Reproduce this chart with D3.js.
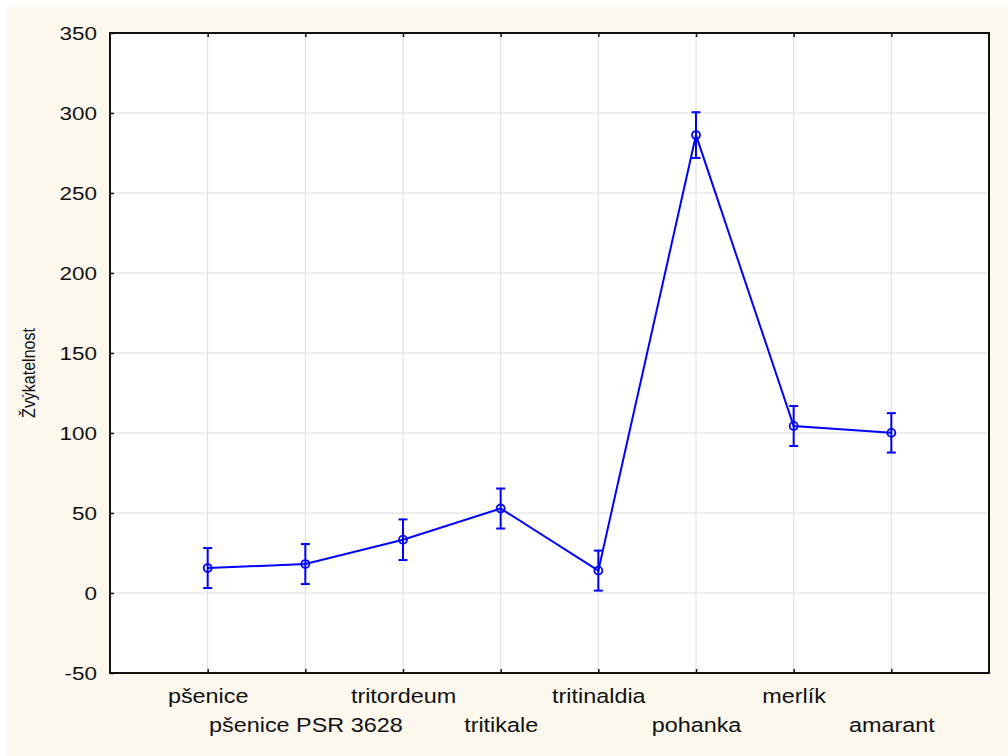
<!DOCTYPE html>
<html>
<head>
<meta charset="utf-8">
<script src="https://cdn.jsdelivr.net/npm/d3@7"></script>
<style>
  body { margin: 0; background: #ffffff; }
  text { font-family: "Liberation Sans", Arial, sans-serif; fill: #111; }
</style>
</head>
<body>
<div id="chart"></div>
<script>
// data
const categories = ["pšenice", "pšenice PSR 3628", "tritordeum", "tritikale", "tritinaldia", "pohanka", "merlík", "amarant"];
const means = [15.6, 18.1, 33.3, 52.8, 14.0, 286.2, 104.4, 100.1];
const errors = [12.5, 12.5, 12.7, 12.5, 12.5, 14.3, 12.5, 12.3];
const yTicks = [-50, 0, 50, 100, 150, 200, 250, 300, 350];
const yLabel = "Žvýkatelnost";

const W = 1008, H = 756;
const margin = {top: 33, right: 19, bottom: 83, left: 110};
const width = W - margin.left - margin.right;
const height = H - margin.top - margin.bottom;

const svg = d3.select("#chart").append("svg")
    .attr("width", W)
    .attr("height", H);

// cream page background
svg.append("rect")
    .attr("x", 7).attr("y", 7)
    .attr("width", W - 7).attr("height", H - 7)
    .attr("fill", "#fdf8ee");

const g = svg.append("g")
    .attr("transform", "translate(" + margin.left + "," + margin.top + ")");

g.append("rect")
    .attr("width", width)
    .attr("height", height)
    .attr("fill", "#ffffff");

const x = d3.scalePoint()
    .domain(categories)
    .range([0, width])
    .padding(1);

const y = d3.scaleLinear()
    .domain([-50, 350])
    .range([height, 0]);

// grid
g.selectAll(".hgrid")
    .data(yTicks)
  .enter().append("line")
    .attr("x1", 0).attr("x2", width)
    .attr("y1", d => y(d)).attr("y2", d => y(d))
    .attr("stroke", "#dcdcdc").attr("stroke-width", 1);

g.selectAll(".vgrid")
    .data(categories)
  .enter().append("line")
    .attr("x1", d => x(d)).attr("x2", d => x(d))
    .attr("y1", 0).attr("y2", height)
    .attr("stroke", "#dcdcdc").attr("stroke-width", 1);

// Y axis (ticks point inward)
const yAxis = g.append("g")
    .call(d3.axisLeft(y).tickValues(yTicks).tickSize(-4).tickFormat(d => String(d)));
yAxis.select(".domain").remove();
yAxis.selectAll("line").attr("stroke", "#111").attr("stroke-width", 1.5);
yAxis.selectAll("text")
    .attr("x", 0)
    .attr("dy", "0.36em")
    .attr("text-anchor", "end")
    .attr("transform", "translate(-13,0) scale(1.25,1)")
    .style("font-size", "18px");

// X axis bottom
const xAxis = g.append("g")
    .attr("transform", "translate(0," + height + ")")
    .call(d3.axisBottom(x).tickSize(-4));
xAxis.select(".domain").remove();
xAxis.selectAll("line").attr("stroke", "#111").attr("stroke-width", 1.5);
xAxis.selectAll("text")
    .attr("y", 0)
    .attr("dy", 0)
    .attr("text-anchor", "middle")
    .attr("transform", (d, i) => "translate(0," + (i % 2 === 0 ? 30 : 59) + ") scale(1.2,1)")
    .style("font-size", "19.5px");

// X axis top ticks
const xTop = g.append("g")
    .call(d3.axisTop(x).tickSize(-4).tickFormat(""));
xTop.select(".domain").remove();
xTop.selectAll("line").attr("stroke", "#111").attr("stroke-width", 1.5);

// frame
g.append("rect")
    .attr("width", width)
    .attr("height", height)
    .attr("fill", "none")
    .attr("stroke", "#111")
    .attr("stroke-width", 2);

// Y label
svg.append("text")
    .attr("text-anchor", "middle")
    .attr("transform", "translate(35," + 373 + ") rotate(-90) scale(1,1.15)")
    .style("font-size", "16px")
    .text(yLabel);

const data = categories.map((c, i) => ({cat: c, mean: means[i], err: errors[i]}));
const blue = "#0000ff";

// line
const line = d3.line()
    .x(d => x(d.cat))
    .y(d => y(d.mean));

g.append("path")
    .datum(data)
    .attr("d", line)
    .attr("fill", "none")
    .attr("stroke", blue)
    .attr("stroke-width", 2);

// error bars
const eb = g.selectAll(".eb")
    .data(data)
  .enter().append("g")
    .attr("class", "eb");

eb.append("line")
    .attr("x1", d => x(d.cat)).attr("x2", d => x(d.cat))
    .attr("y1", d => y(d.mean + d.err)).attr("y2", d => y(d.mean - d.err))
    .attr("stroke", blue).attr("stroke-width", 2);

eb.append("line")
    .attr("x1", d => x(d.cat) - 4.5).attr("x2", d => x(d.cat) + 4.5)
    .attr("y1", d => y(d.mean + d.err)).attr("y2", d => y(d.mean + d.err))
    .attr("stroke", blue).attr("stroke-width", 2);

eb.append("line")
    .attr("x1", d => x(d.cat) - 4.5).attr("x2", d => x(d.cat) + 4.5)
    .attr("y1", d => y(d.mean - d.err)).attr("y2", d => y(d.mean - d.err))
    .attr("stroke", blue).attr("stroke-width", 2);

// markers
g.selectAll(".pt")
    .data(data)
  .enter().append("circle")
    .attr("cx", d => x(d.cat))
    .attr("cy", d => y(d.mean))
    .attr("r", 4)
    .attr("fill", "none")
    .attr("stroke", blue)
    .attr("stroke-width", 1.8);
</script>
</body>
</html>
